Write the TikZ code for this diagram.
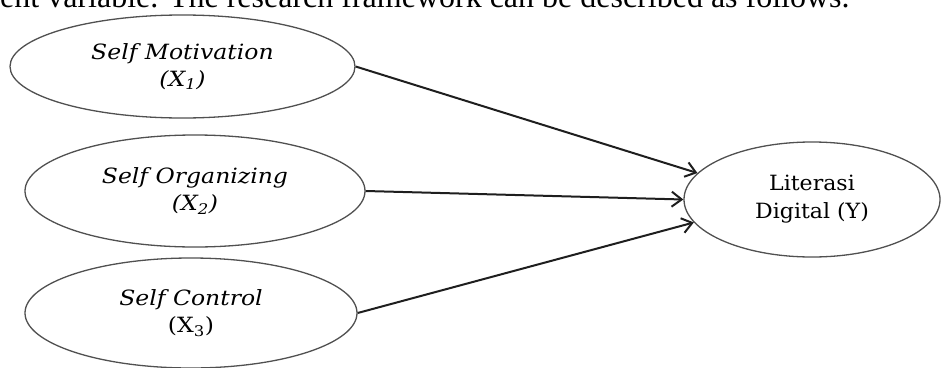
\documentclass[tikz,border=0pt]{standalone}
\usepackage{fontspec}
\usetikzlibrary{arrows.meta, shapes.geometric}
\newfontfamily\bodyfont{Liberation Serif}
\newfontfamily\lblfont[FakeStretch=1.12]{DejaVu Serif}
\newfontfamily\outfont[FakeStretch=1.05]{DejaVu Serif}
\definecolor{rimgray}{RGB}{80,80,80}
\definecolor{linkgray}{RGB}{30,30,30}

\begin{document}
\begin{tikzpicture}[x=1pt, y=-1pt,
  var/.style={draw=rimgray, line width=1.3pt, ellipse, inner sep=0pt, align=center,
    font=\lblfont\itshape\fontsize{21}{27}\selectfont},
  link/.style={draw=linkgray, line width=2pt, -{Straight Barb[length=10pt, width=15pt]}}]
  \useasboundingbox (0,0) rectangle (944,367);
  \node[anchor=base west, inner sep=0pt, font=\bodyfont\fontsize{32}{38}\selectfont] (intro) at (0,7) {ent variable. The research framework can be described as follows.};
  \node[var, minimum width=345pt, minimum height=103pt] (x1) at (182.5,66.5) {Self Motivation\\(X\textsubscript{1})};
  \node[var, minimum width=340pt, minimum height=112pt] (x2) at (195,191) {Self Organizing\\(X\textsubscript{2})};
  \node[var, minimum width=332pt, minimum height=110pt] (x3) at (191,313) {Self Control\\\upshape(X\textsubscript{3})};
  \node[var, font=\outfont\fontsize{21}{28}\selectfont, minimum width=256pt, minimum height=115pt] (y) at (812,199.5) {Literasi\\Digital (Y)};
  \draw[link] (x1.east) -- (y.167);
  \draw[link] (x2.east) -- (y.west);
  \draw[link] (x3.east) -- (y.191);
\end{tikzpicture}
\end{document}
